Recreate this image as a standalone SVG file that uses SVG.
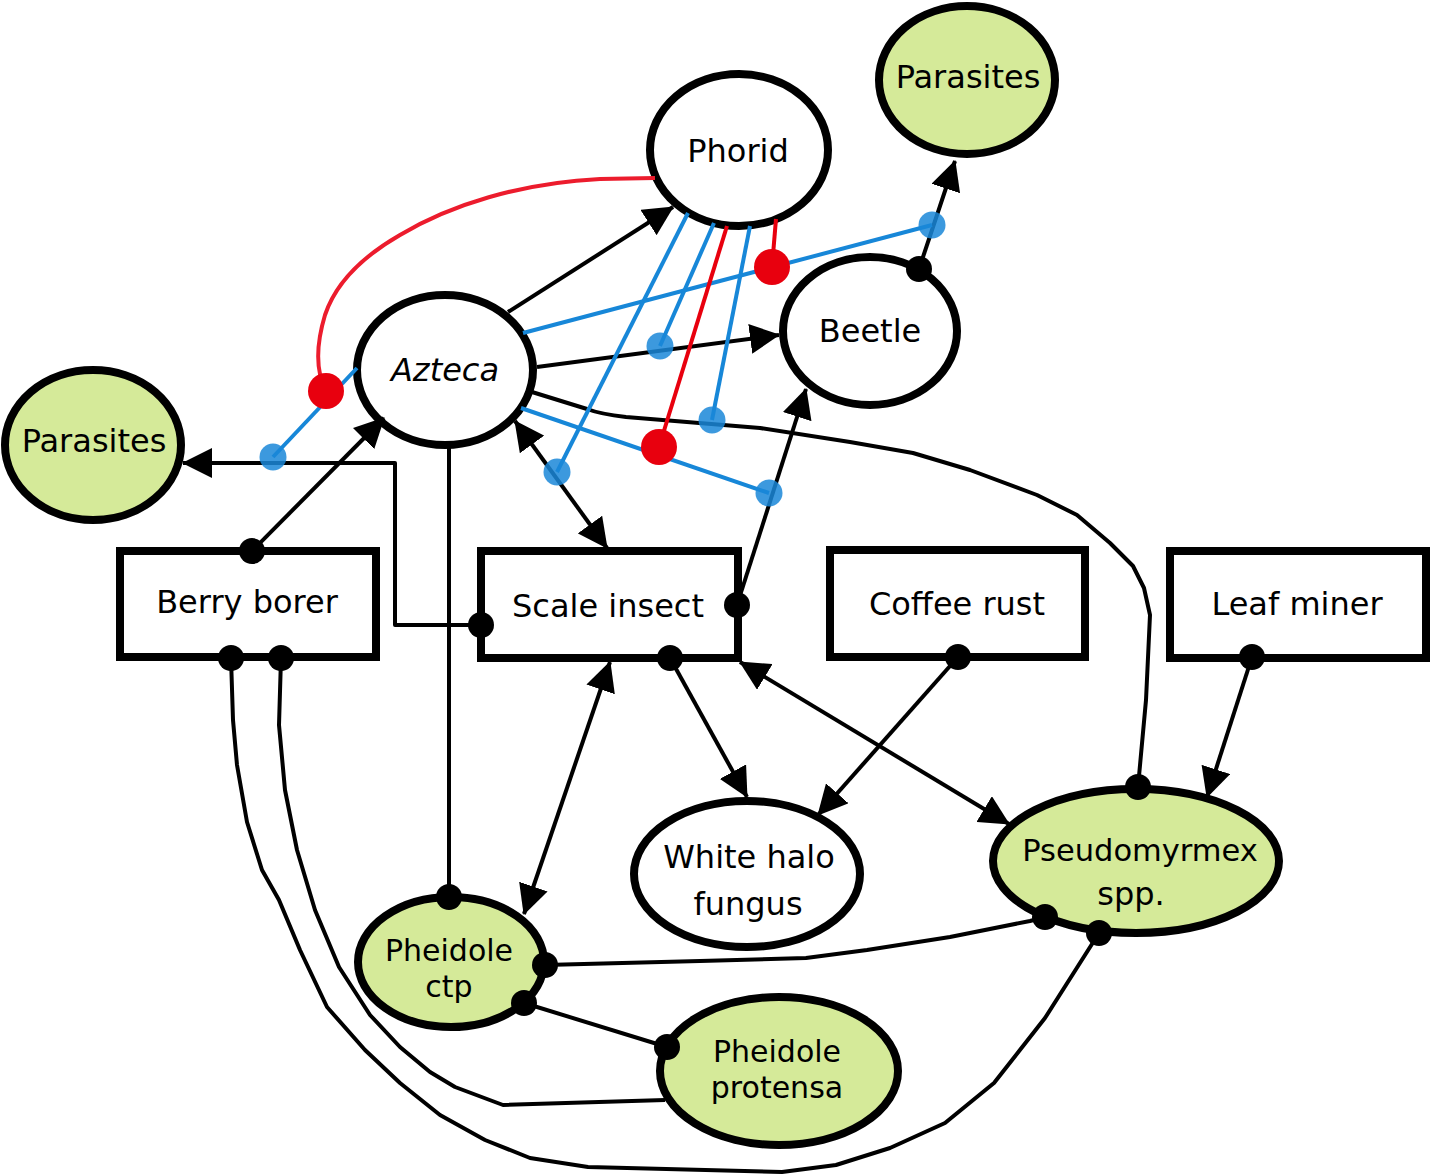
<svg xmlns="http://www.w3.org/2000/svg" width="1431" height="1176" viewBox="0 0 1431 1176">
<style>
.n{stroke:#000;stroke-width:8;fill:#fff}
.g{fill:#d5ea99}
.t{font-family:"DejaVu Sans","Liberation Sans",sans-serif;font-size:32px;fill:#000;text-anchor:middle}
.s{font-size:30px}
.c{fill:none;stroke:#000;stroke-width:4;stroke-linejoin:round}
.b{fill:none;stroke:#1787d8;stroke-width:4}
.r{fill:none;stroke:#e8000e;stroke-width:4}
.ar{marker-end:url(#arrow)}
.ar2{marker-start:url(#arrow);marker-end:url(#arrow)}
</style>
<defs>
<marker id="arrow" viewBox="0 0 30 30" refX="29" refY="15" markerWidth="30" markerHeight="30" markerUnits="userSpaceOnUse" orient="auto-start-reverse"><path d="M0,0L30,15L0,30z" fill="#000"/></marker>
<marker id="dot" viewBox="-13 -13 26 26" refX="0" refY="0" markerWidth="26" markerHeight="26" markerUnits="userSpaceOnUse"><circle r="13" fill="#000"/></marker>
<marker id="bdot" viewBox="-14 -14 28 28" refX="0" refY="0" markerWidth="28" markerHeight="28" markerUnits="userSpaceOnUse"><circle r="13.5" fill="#1a87d8" fill-opacity="0.85"/></marker>
<marker id="rdot" viewBox="-18 -18 36 36" refX="0" refY="0" markerWidth="36" markerHeight="36" markerUnits="userSpaceOnUse"><circle r="18" fill="#e8000e"/></marker>
</defs>

<g id="phorid"><ellipse class="n" cx="739" cy="150" rx="89" ry="76"/><text class="t" x="738" y="162">Phorid</text></g>
<g id="parasites-top"><ellipse class="n g" cx="967" cy="80" rx="88" ry="74"/><text class="t" x="968" y="88">Parasites</text></g>
<g id="beetle"><ellipse class="n" cx="870" cy="331" rx="87" ry="74"/><text class="t" x="870" y="342">Beetle</text></g>
<g id="azteca"><ellipse class="n" cx="445" cy="370" rx="88" ry="75"/><text class="t" x="445" y="381" font-style="italic">Azteca</text></g>
<g id="parasites-left"><ellipse class="n g" cx="93" cy="445" rx="88" ry="75"/><text class="t" x="94" y="452">Parasites</text></g>
<g id="berry-borer"><rect class="n" x="120" y="551" width="256" height="106"/><text class="t" x="247" y="613">Berry borer</text></g>
<g id="scale-insect"><rect class="n" x="481" y="551" width="257" height="107"/><text class="t" x="608" y="617">Scale insect</text></g>
<g id="coffee-rust"><rect class="n" x="830" y="550" width="255" height="107"/><text class="t" x="957" y="615">Coffee rust</text></g>
<g id="leaf-miner"><rect class="n" x="1170" y="551" width="256" height="107"/><text class="t" x="1297" y="615">Leaf miner</text></g>
<g id="white-halo"><ellipse class="n" cx="747" cy="874" rx="113" ry="73"/><text class="t" x="749" y="868">White halo</text><text class="t" x="748" y="915">fungus</text></g>
<g id="pseudomyrmex"><ellipse class="n g" cx="1136" cy="861" rx="143" ry="72"/><text class="t" x="1140" y="861" style="font-size:30.5px">Pseudomyrmex</text><text class="t" x="1131" y="905">spp.</text></g>
<g id="pheidole-ctp"><ellipse class="n g" cx="451" cy="962" rx="93" ry="65"/><text class="t s" x="449" y="961">Pheidole</text><text class="t s" x="449" y="997">ctp</text></g>
<g id="pheidole-protensa"><ellipse class="n g" cx="779" cy="1071" rx="119" ry="74"/><text class="t s" x="777" y="1062">Pheidole</text><text class="t s" x="777" y="1098">protensa</text></g>

<g id="connectors">
<path class="c ar" d="M508,312L673,207"/>
<path class="c ar" d="M537,367L779,335"/>
<path class="c" marker-end="url(#dot)" d="M532,392L587,409Q600,414 626,417L760,428L850,442L913,453L970,470L1037,495L1077,515L1110,543L1133,566L1144,588L1150,615L1146,700L1138,787"/>
<path class="c ar2" d="M515,421L607,548"/>
<path class="c" marker-end="url(#dot)" d="M449,448L449,897"/>
<path class="c ar" marker-start="url(#dot)" d="M252,551L384,418"/>
<path class="c ar" marker-start="url(#dot)" d="M481,625L395,625L395,463L183,463"/>
<path class="c ar" marker-start="url(#dot)" d="M737,605L806,389"/>
<path class="c ar" marker-start="url(#dot)" d="M670,658L747,797"/>
<path class="c ar2" d="M610,662L524,914"/>
<path class="c ar2" d="M740,662L1009,824"/>
<path class="c ar" marker-start="url(#dot)" d="M958,657L818,815"/>
<path class="c ar" marker-start="url(#dot)" d="M1252,657L1207,797"/>
<path class="c ar" marker-start="url(#dot)" d="M919,269L955,161"/>
<path class="c" marker-start="url(#dot)" marker-end="url(#dot)" d="M231,658L233,720L237,765L247,822L262,870L279,900L300,950L327,1007L365,1050L400,1083L440,1115L485,1140L530,1158L588,1167L782,1172L836,1165L890,1148L945,1123L994,1083L1045,1018L1099,933"/>
<path class="c" marker-start="url(#dot)" d="M281,658L279,725L285,790L297,850L315,910L339,967L370,1015L400,1047L430,1072L455,1087L503,1105L665,1100"/>
<path class="c" marker-start="url(#dot)" marker-end="url(#dot)" d="M524,1003L667,1047"/>
<path class="c" marker-start="url(#dot)" marker-end="url(#dot)" d="M545,965L700,961L806,958L867,950L950,937L1030,921L1045,917"/>

<path class="b" marker-end="url(#bdot)" d="M357,368L273,457"/>
<path class="b" marker-end="url(#bdot)" d="M523,333L932,225"/>
<path class="b" marker-end="url(#bdot)" d="M521,408L769,493"/>
<path class="b" marker-end="url(#bdot)" d="M688,213L557,472"/>
<path class="b" marker-end="url(#bdot)" d="M714,223L660,346"/>
<path class="b" marker-end="url(#bdot)" d="M750,226L712,420"/>

<path class="r" style="stroke:#ec1c2d" marker-end="url(#rdot)" d="M655,178L600,179C520,183 450,205 400,235C360,258 335,285 325,315C316,345 315,370 326,391"/>
<path class="r" marker-end="url(#rdot)" d="M727,226L659,447"/>
<path class="r" marker-end="url(#rdot)" d="M776,219L772,267"/>
</g>
</svg>
